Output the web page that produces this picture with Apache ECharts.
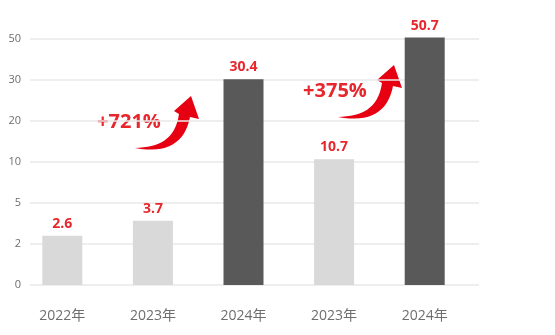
<!DOCTYPE html>
<html>
<head>
<meta charset="utf-8">
<script src="https://cdn.jsdelivr.net/npm/echarts@6/dist/echarts.min.js"></script>
<style>html,body{margin:0;padding:0;background:#fff}#c{width:555px;height:335px}</style>
</head>
<body>
<div id="c"></div>
<script>
var categories = ['2022年', '2023年', '2024年', '2023年', '2024年'];
var values = [2.6, 3.7, 30.4, 10.7, 50.7];
var yTicks = [0, 2, 5, 10, 20, 30, 50];
var growthLabels = ['+721%', '+375%'];

// piecewise-linear axis: each tick interval gets equal height
function toAxis(v) {
  for (var i = 1; i < yTicks.length; i++) {
    if (v <= yTicks[i] || i === yTicks.length - 1) {
      return (i - 1) + (v - yTicks[i - 1]) / (yTicks[i] - yTicks[i - 1]);
    }
  }
  return 0;
}

var FONT = "'Open Sans', 'Noto Sans CJK SC', sans-serif";
var RED = '#e8262d';
var ARROW = '#e60012';

// curved arrow outline (local coordinates, tail at 0,0)
function cubic(p0, p1, p2, p3, n, out) {
  for (var k = 1; k <= n; k++) {
    var t = k / n, u = 1 - t;
    out.push([
      u*u*u*p0[0] + 3*u*u*t*p1[0] + 3*u*t*t*p2[0] + t*t*t*p3[0],
      u*u*u*p0[1] + 3*u*u*t*p1[1] + 3*u*t*t*p2[1] + t*t*t*p3[1]
    ]);
  }
}
function arrowShape() {
  var pts = [[0, 0]];
  cubic([0, 0], [24, -1], [40, -8], [44, -34], 16, pts);
  pts.push([39, -37], [56, -52], [64, -29], [55, -31]);
  cubic([55, -31], [50, -5], [32, 6], [0, 0], 16, pts);
  return pts;
}
var arrowPts = arrowShape();

var chart = echarts.init(document.getElementById('c'), null, {renderer: 'canvas'});
chart.setOption({
  animation: false,
  grid: [
    {left: 30, right: 76, top: 39, bottom: 50},
    {left: 17, right: 85, top: 39, bottom: 50}
  ],
  xAxis: [
    {gridIndex: 0, type: 'value', show: false, min: 0, max: 1},
    {
      gridIndex: 1, type: 'category', data: categories,
      axisLine: {show: false}, axisTick: {show: false},
      axisLabel: {color: '#6e6e6e', fontSize: 14, fontFamily: FONT, margin: 24}
    }
  ],
  yAxis: [
    {
      gridIndex: 0, type: 'value', min: 0, max: yTicks.length - 1, interval: 1,
      axisLine: {show: false}, axisTick: {show: false},
      axisLabel: {
        color: '#6e6e6e', fontSize: 11, fontFamily: FONT, margin: 9,
        formatter: function (v) { return yTicks[Math.round(v)]; }
      },
      splitLine: {lineStyle: {color: '#e8e8e8', width: 1.5}}
    },
    {
      gridIndex: 1, type: 'value', min: 0, max: yTicks.length - 1, interval: 1,
      show: false, splitLine: {show: false}
    }
  ],
  series: [{
    type: 'bar',
    xAxisIndex: 1, yAxisIndex: 1,
    barWidth: 40,
    clip: false,
    data: values.map(function (v) { return toAxis(v); }),
    itemStyle: {
      color: function (p) { return p.name === '2024年' ? '#595959' : '#d9d9d9'; }
    },
    label: {
      show: true, position: 'top', distance: 5,
      color: RED, fontSize: 14, fontWeight: 'bold', fontFamily: FONT,
      formatter: function (p) { return values[p.dataIndex]; }
    }
  }],
  graphic: [
    {type: 'polygon', shape: {points: arrowPts}, x: 135, y: 148, style: {fill: ARROW}},
    {type: 'polygon', shape: {points: arrowPts}, x: 338, y: 117, style: {fill: ARROW}},
    {type: 'text', x: 129, y: 122, style: {text: growthLabels[0], fill: RED, font: 'bold 20px ' + FONT, textAlign: 'center', textVerticalAlign: 'middle'}},
    {type: 'text', x: 335, y: 91, style: {text: growthLabels[1], fill: RED, font: 'bold 20px ' + FONT, textAlign: 'center', textVerticalAlign: 'middle'}}
  ]
});
</script>
</body>
</html>
